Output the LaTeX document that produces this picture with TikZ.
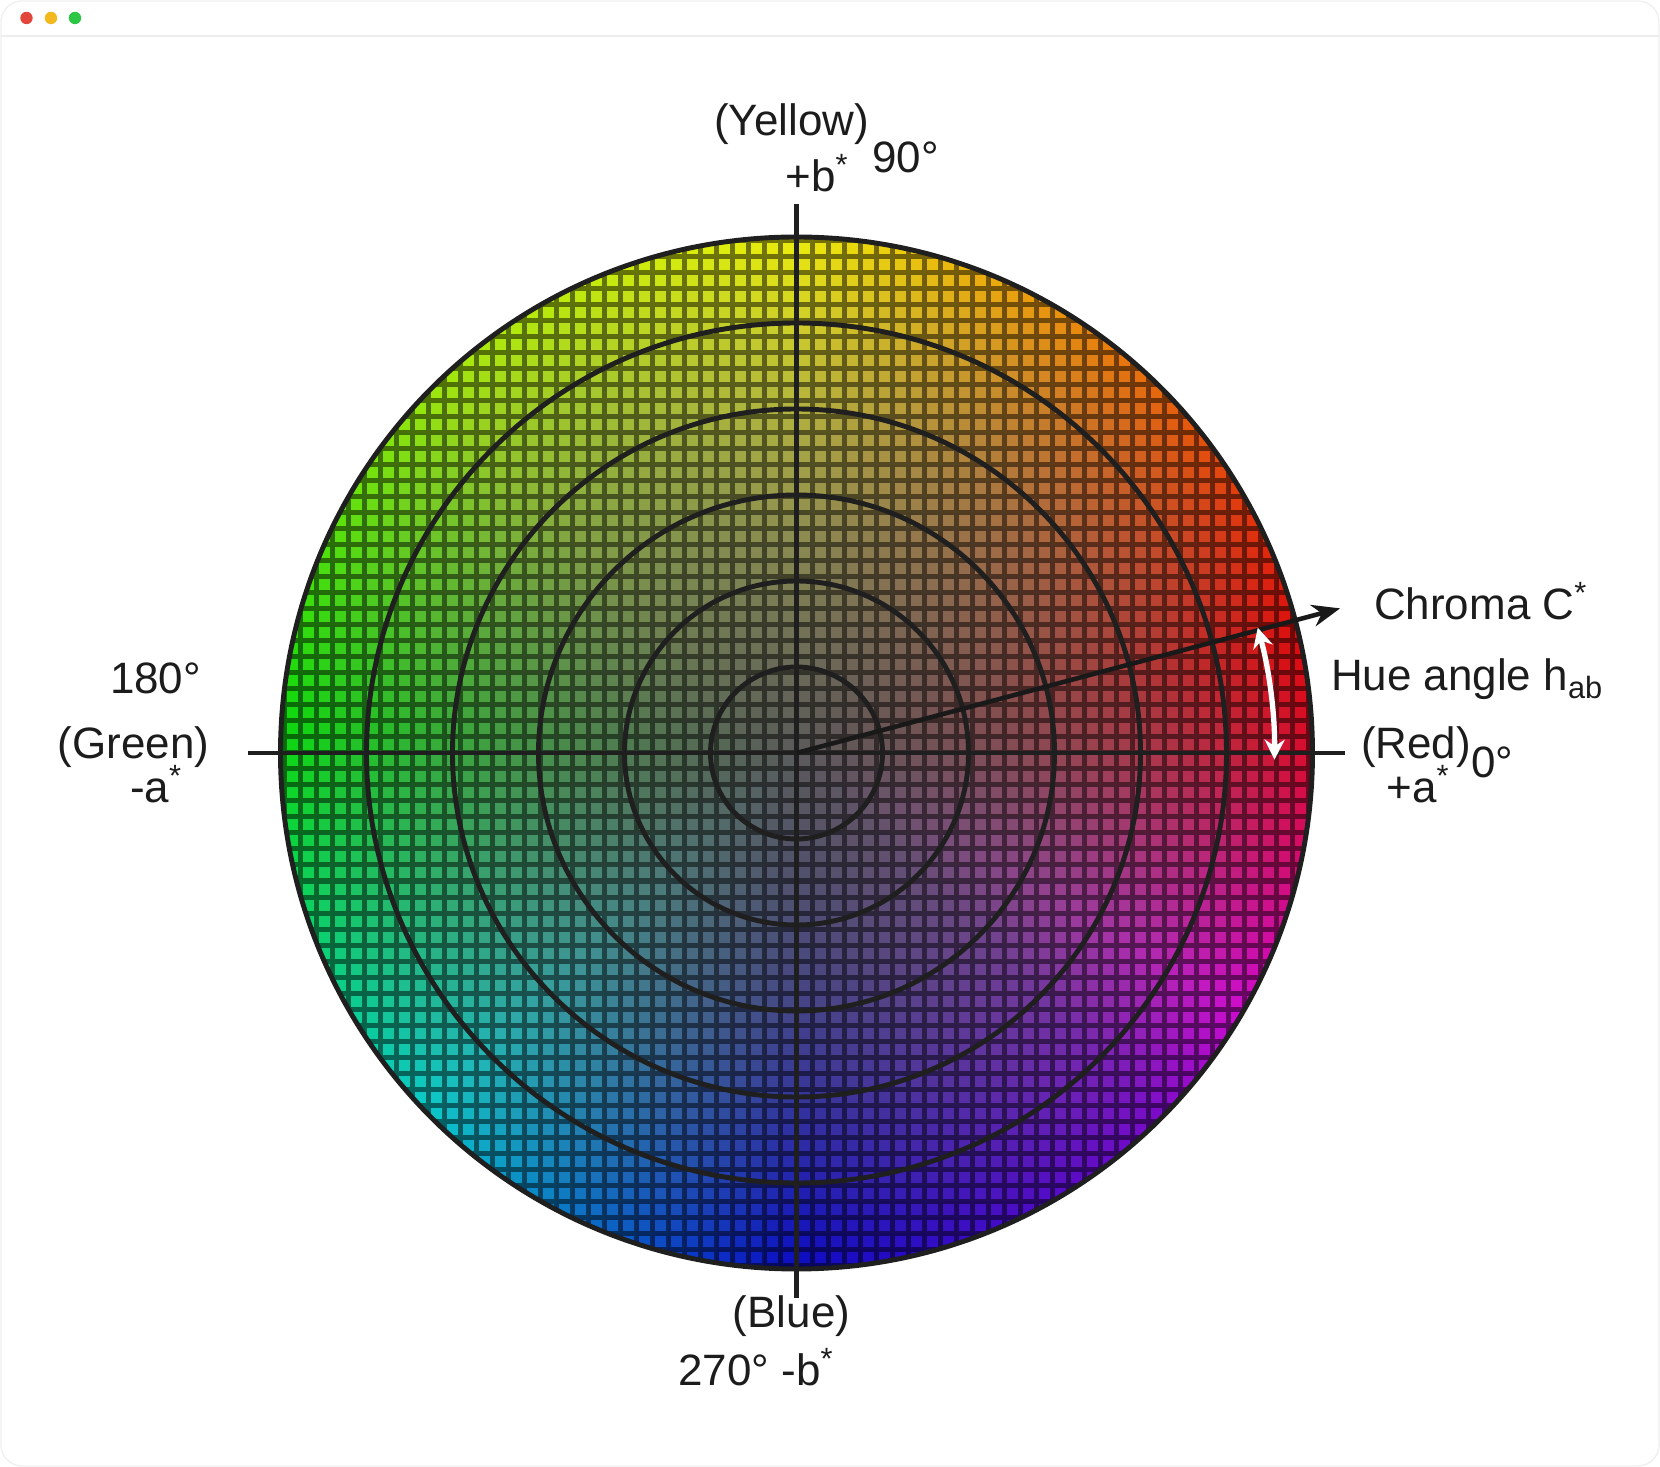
\documentclass[tikz,border=0pt]{standalone}
\usepackage{fontspec}
\setmainfont{Liberation Sans}
\usepackage{xcolor}
\usepackage{tikz}
\usetikzlibrary{arrows.meta}
\usetikzlibrary{positioning}

\definecolor{dotred}{HTML}{E2463A}
\definecolor{dotyellow}{HTML}{F4B81F}
\definecolor{dotgreen}{HTML}{2BC744}
\definecolor{barline}{HTML}{EDEDED}
\definecolor{labeltext}{HTML}{1C1C1C}

\newcommand{\cellsize}{0.16}
\newcommand{\wheelR}{5.16}

\begin{document}
\begin{tikzpicture}[>=stealth,
  lbl/.style={font=\fontsize{12.5}{15}\selectfont, text=labeltext, inner sep=0pt},
  ring/.style={line width=1.4pt, black!88},
  axisline/.style={line width=1.4pt, black!88}]
  \useasboundingbox (-7.965,-7.14) rectangle (8.635,7.53);

  % ===== Window frame =====
  \draw[gray!12, rounded corners=6pt] (-7.955,-7.13) rectangle (8.625,7.52);
  \draw[barline] (-7.955,7.17) -- (8.625,7.17);
  \fill[dotred] (-7.70,7.35) circle (0.062);
  \fill[dotyellow] (-7.455,7.35) circle (0.062);
  \fill[dotgreen] (-7.215,7.35) circle (0.062);

  % ===== Colour wheel (cells) =====
  \begin{scope}
    \clip (0,0) circle (\wheelR);
    \foreach \i in {-33,...,32}{
      \foreach \j in {-33,...,32}{
        \pgfmathsetmacro\cx{(\i+0.5)*\cellsize}
        \pgfmathsetmacro\cy{(\j+0.5)*\cellsize}
        \pgfmathsetmacro\rr{veclen(\cx,\cy)/\wheelR}
        \ifdim\rr pt<1.04pt
          \pgfmathsetmacro\ang{mod(atan2(\cy,\cx)+360,360)}
          \pgfmathsetmacro\hue{\ang<90 ? -10+\ang*0.77778 : (\ang<135 ? 60+(\ang-90)*0.44444 : (\ang<180 ? 80+(\ang-135)*0.95556 : (\ang<270 ? 123+(\ang-180)*1.30000 : (\ang<315 ? 240+(\ang-270)*0.77778 : 275+(\ang-315)*1.66667))))}
          \pgfmathsetmacro\hue{mod(\hue+360,360)}
          \pgfmathsetmacro\sat{min(1,0.95*\rr^0.9)}
          \pgfmathsetmacro\bo{0.85+0.08*sin(\ang)}
          \pgfmathsetmacro\bri{min(1,0.36+(\bo-0.36)*\rr^1.25)}
          \definecolor{cellc}{Hsb}{\hue,\sat,\bri}
          \fill[cellc] (\i*\cellsize,\j*\cellsize) rectangle ++(\cellsize,\cellsize);
        \fi
      }
    }
    % mesh lines
    \draw[step=\cellsize, black, opacity=0.5, line width=0.05cm] (-5.28,-5.28) grid (5.28,5.28);
  \end{scope}

  % Rings
  \foreach \k in {1,...,6}
    \draw[ring] (0,0) circle ({\k*\wheelR/6});

  % Axes
  \coordinate (O) at (0,0);
  \coordinate (aplus) at (5.485,0);
  \coordinate (aminus) at (-5.485,0);
  \coordinate (bplus) at (0,5.49);
  \coordinate (bminus) at (0,-5.45);
  \draw[axisline] (aminus) -- (aplus);
  \draw[axisline] (bminus) -- (bplus);

  % Chroma and hue angle
  \coordinate (ctip) at (14.9:5.625);
  \draw[line width=1.3pt, black!90, -{Stealth[length=0.28cm, width=0.22cm]}] (O) -- (ctip);
  \draw[white, line width=1.5pt, {Stealth[length=0.2cm, width=0.2cm]}-{Stealth[length=0.2cm, width=0.2cm]}]
    (-0.8:4.78) arc[start angle=-0.8, end angle=15.2, radius=4.78];

  % ===== Labels =====
  \node[lbl] (yellowlbl) at (-0.05,6.29) {(Yellow)};
  \node[lbl] (plusb) at (0.21,5.80) {+b\textsuperscript{*}};
  \node[lbl] (deg90) at (1.09,5.96) {90°};
  \node[lbl, anchor=west] (chromalbl) at (5.77,1.52) {Chroma C\textsuperscript{*}};
  \node[lbl, anchor=west] (huelbl) at (5.34,0.74) {Hue angle h\textsubscript{ab}};
  \node[lbl, anchor=west] (redlbl) at (5.64,0.06) {(Red)};
  \node[lbl] (deg0) at (6.96,-0.09) {0°};
  \node[lbl] (plusa) at (6.22,-0.31) {+a\textsuperscript{*}};
  \node[lbl] (deg180) at (-6.41,0.75) {180°};
  \node[lbl] (greenlbl) at (-6.63,0.06) {(Green)};
  \node[lbl] (minusa) at (-6.40,-0.31) {-a\textsuperscript{*}};
  \node[lbl] (bluelbl) at (-0.05,-5.63) {(Blue)};
  \node[lbl] (deg270) at (-0.40,-6.14) {270° -b\textsuperscript{*}};
\end{tikzpicture}
\end{document}
